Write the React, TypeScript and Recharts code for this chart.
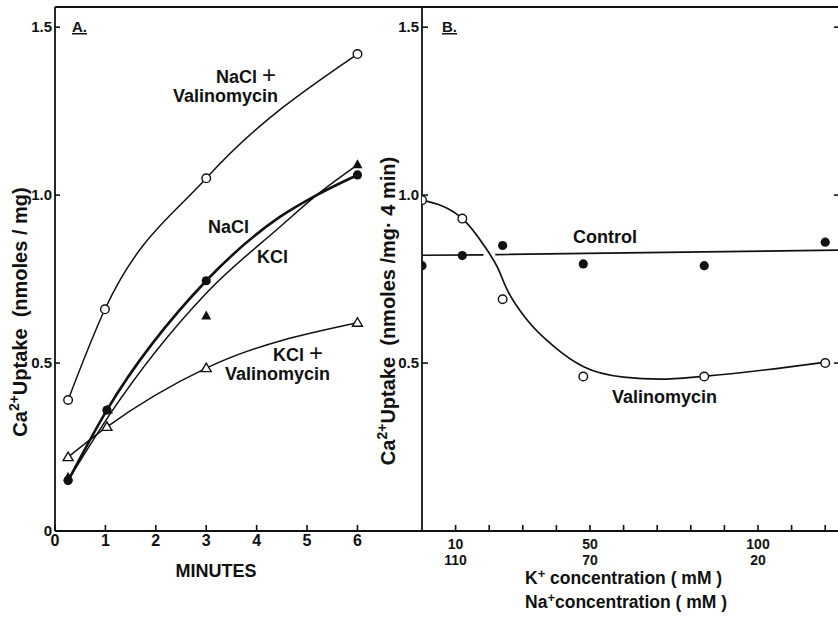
import { ComposedChart, Line, Scatter, XAxis, YAxis } from 'recharts';

// ---- panel A: uptake vs time ----
const minuteTicks = [0, 1, 2, 3, 4, 5, 6];
const topMinuteTicks = [1, 2, 3, 4, 5, 6];
const uptakeTicksA = [0, 0.5, 1, 1.5];

const naclValMin = [0.26, 0.99, 3.0, 6.0];
const naclValUptake = [0.39, 0.66, 1.05, 1.42];

const kclValMin = [0.26, 1.03, 3.0, 6.0];
const kclValUptake = [0.22, 0.31, 0.485, 0.62];

const naclMin = [0.26, 1.03, 3.0, 6.0];
const naclUptake = [0.15, 0.36, 0.745, 1.06];

const kclMin = [0.26, 1.05, 3.0, 6.0];
const kclUptake = [0.16, 0.36, 0.64, 1.09];

// hand-drawn fit lines for the NaCl / KCl runs
const naclFitMin = [0.26, 1.03, 3.0, 4.46, 5.19, 6.0];
const naclFitUptake = [0.15, 0.36, 0.745, 0.935, 1.0, 1.06];
const kclFitMin = [0.3, 1.1, 3.0, 4.46, 5.19, 6.0];
const kclFitUptake = [0.16, 0.35, 0.708, 0.905, 1.0, 1.09];

// ---- panel B: uptake vs K+/Na+ concentration ----
const kTicks = [10, 20, 30, 40, 50, 60, 70, 80, 90, 100, 110, 120];
const kLabelled = [10, 50, 100];
const naLabelled = [110, 70, 20];
const uptakeTicksB = [0.5, 1, 1.5];

const kConc = [0, 12, 24, 48, 84, 120];
const valUptake = [0.985, 0.93, 0.69, 0.46, 0.46, 0.5];
const controlUptake = [0.79, 0.82, 0.85, 0.795, 0.79, 0.86];

const valFitK = [0, 12, 18.4, 22.4, 25.4, 31.3, 39.3, 48.1, 60, 70.9, 84.3, 120.2];
const valFitUptake = [0.985, 0.93, 0.851, 0.786, 0.717, 0.628, 0.549, 0.489, 0.458, 0.452, 0.461, 0.503];

// control line is broken where the valinomycin curve crosses it
const controlFitK = [0, 18.3, 20, 21.8, 124.4];
const controlFitUptake = [0.821, 0.822, null, 0.823, 0.836];

const pts = (xs: number[], ys: (number | null)[]) => xs.map((x, i) => ({ x, y: ys[i] }));

const font = '"Liberation Sans", Arial, Helvetica, sans-serif';
const ink = '#111';
const axisLine = { stroke: ink, strokeWidth: 1.8 };
const tickLine = { stroke: ink, strokeWidth: 1.6 };
const tickText = { fill: ink, fontSize: 15, fontWeight: 700, fontFamily: font };
const fmt = (v: number) => (v === 0 ? '0' : v.toFixed(1));
const blank = () => '';

const OpenCircle = (p: any) => (
  <circle cx={p.cx} cy={p.cy} r={4.3} fill="#fff" stroke={ink} strokeWidth={1.4} />
);
const FilledCircle = (p: any) => <circle cx={p.cx} cy={p.cy} r={4.6} fill={ink} />;
const OpenTriangle = (p: any) => (
  <path
    d={`M${p.cx},${p.cy - 5} L${p.cx + 5},${p.cy + 3.5} L${p.cx - 5},${p.cy + 3.5} Z`}
    fill="#fff"
    stroke={ink}
    strokeWidth={1.4}
  />
);
const FilledTriangle = (p: any) => (
  <path
    d={`M${p.cx},${p.cy - 5.5} L${p.cx + 5},${p.cy + 3.5} L${p.cx - 5},${p.cy + 3.5} Z`}
    fill={ink}
  />
);

// two-row tick: K+ on top, matching Na+ below
const ConcTick = ({ x, y, payload }: any) => {
  const i = kLabelled.indexOf(payload.value);
  if (i < 0) return <g />;
  return (
    <text x={x} y={y} textAnchor="middle" fontSize={14} fontWeight={700} fontFamily={font} fill={ink}>
      <tspan x={x} dy={10.5}>{kLabelled[i]}</tspan>
      <tspan x={x} dy={16.5}>{naLabelled[i]}</tspan>
    </text>
  );
};

function PanelA() {
  return (
    <ComposedChart width={430} height={617} margin={{ top: 6, right: 7, bottom: 56, left: 15 }}>
      <XAxis
        dataKey="x"
        type="number"
        domain={[0, 7.3]}
        allowDataOverflow
        ticks={minuteTicks}
        interval={0}
        tickSize={-6}
        tickMargin={10}
        height={30}
        axisLine={axisLine}
        tickLine={tickLine}
        tick={{ ...tickText, fontSize: 16 }}
      />
      <XAxis
        xAxisId="top"
        orientation="top"
        type="number"
        domain={[0, 7.3]}
        allowDataOverflow
        ticks={topMinuteTicks}
        interval={0}
        tickSize={-6}
        height={1}
        axisLine={axisLine}
        tickLine={tickLine}
        tickFormatter={blank}
      />
      <YAxis
        dataKey="y"
        type="number"
        domain={[0, 1.56]}
        allowDataOverflow
        ticks={uptakeTicksA}
        interval={0}
        tickSize={-5}
        tickMargin={8}
        width={40}
        axisLine={axisLine}
        tickLine={tickLine}
        tick={tickText}
        tickFormatter={fmt}
      />
      <Line data={pts(naclValMin, naclValUptake)} dataKey="y" type="monotone" stroke={ink} strokeWidth={1.5} dot={false} isAnimationActive={false} />
      <Line data={pts(kclValMin, kclValUptake)} dataKey="y" type="monotone" stroke={ink} strokeWidth={1.5} dot={false} isAnimationActive={false} />
      <Line data={pts(kclFitMin, kclFitUptake)} dataKey="y" type="monotone" stroke={ink} strokeWidth={1.5} dot={false} isAnimationActive={false} />
      <Line data={pts(naclFitMin, naclFitUptake)} dataKey="y" type="monotone" stroke={ink} strokeWidth={2.6} dot={false} isAnimationActive={false} />
      <Scatter data={pts(naclValMin, naclValUptake)} dataKey="y" shape={OpenCircle} isAnimationActive={false} />
      <Scatter data={pts(kclValMin, kclValUptake)} dataKey="y" shape={OpenTriangle} isAnimationActive={false} />
      <Scatter data={pts(kclMin, kclUptake)} dataKey="y" shape={FilledTriangle} isAnimationActive={false} />
      <Scatter data={pts(naclMin, naclUptake)} dataKey="y" shape={FilledCircle} isAnimationActive={false} />
    </ComposedChart>
  );
}

function PanelB() {
  return (
    <ComposedChart width={470} height={617} margin={{ top: 6, right: 5, bottom: 56, left: 2 }}>
      <XAxis
        dataKey="x"
        type="number"
        domain={[0, 124.4]}
        allowDataOverflow
        ticks={kTicks}
        interval={0}
        tickSize={-6}
        tickMargin={13}
        height={30}
        axisLine={axisLine}
        tickLine={tickLine}
        tick={<ConcTick />}
      />
      <XAxis
        xAxisId="top"
        orientation="top"
        type="number"
        domain={[0, 124.4]}
        allowDataOverflow
        ticks={kTicks}
        interval={0}
        tickSize={-6}
        height={1}
        axisLine={axisLine}
        tickLine={tickLine}
        tickFormatter={blank}
      />
      <YAxis
        dataKey="y"
        type="number"
        domain={[0, 1.56]}
        allowDataOverflow
        ticks={uptakeTicksB}
        interval={0}
        tickSize={-6}
        tickMargin={9}
        width={40}
        axisLine={axisLine}
        tickLine={tickLine}
        tick={tickText}
        tickFormatter={fmt}
      />
      <YAxis
        yAxisId="right"
        orientation="right"
        type="number"
        domain={[0, 1.56]}
        allowDataOverflow
        ticks={uptakeTicksB}
        interval={0}
        tickSize={-6}
        width={5}
        axisLine={axisLine}
        tickLine={tickLine}
        tickFormatter={blank}
      />
      <Line data={pts(controlFitK, controlFitUptake)} dataKey="y" type="linear" stroke={ink} strokeWidth={1.7} dot={false} isAnimationActive={false} />
      <Line data={pts(valFitK, valFitUptake)} dataKey="y" type="monotone" stroke={ink} strokeWidth={1.7} dot={false} isAnimationActive={false} />
      <Scatter data={pts(kConc, valUptake)} dataKey="y" shape={OpenCircle} isAnimationActive={false} />
      <Scatter data={pts(kConc, controlUptake)} dataKey="y" shape={FilledCircle} isAnimationActive={false} />
    </ComposedChart>
  );
}

function Annotations() {
  const t = { fill: ink, fontFamily: font, fontWeight: 700, fontSize: 18 } as const;
  return (
    <svg width={838} height={617} style={{ position: 'absolute', left: 0, top: 0, pointerEvents: 'none' }}>
      {/* panel A */}
      <text x={72} y={32} {...t} fontSize={15} textDecoration="underline">A.</text>
      <text x={216} y={83} {...t}>
        NaCl <tspan fontSize={24} fontWeight={400}>+</tspan>
      </text>
      <text x={173} y={102} {...t}>Valinomycin</text>
      <text x={208} y={233} {...t}>NaCl</text>
      <text x={257} y={263} {...t}>KCl</text>
      <text x={273} y={361} {...t}>
        KCl <tspan fontSize={24} fontWeight={400}>+</tspan>
      </text>
      <text x={225} y={380} {...t}>Valinomycin</text>
      <text x={216} y={577} {...t} textAnchor="middle">MINUTES</text>
      <text transform="translate(27,312) rotate(-90)" {...t} fontSize={20} textAnchor="middle" style={{ whiteSpace: 'pre' }}>
        Ca<tspan fontSize={14} dy={-8}>2+</tspan>
        <tspan dy={8}>Uptake  (nmoles / mg)</tspan>
      </text>

      {/* panel B */}
      <text x={442} y={32} {...t} fontSize={15} textDecoration="underline">B.</text>
      <text x={573} y={243} {...t}>Control</text>
      <text x={612} y={403} {...t}>Valinomycin</text>
      <text transform="translate(395,311) rotate(-90)" {...t} fontSize={20} textAnchor="middle" style={{ whiteSpace: 'pre' }}>
        Ca<tspan fontSize={14} dy={-8}>2+</tspan>
        <tspan dy={8}>Uptake  (nmoles /mg· 4 min)</tspan>
      </text>
      <text x={525} y={584} {...t} fontSize={17.5} style={{ whiteSpace: 'pre' }}>
        K<tspan fontSize={13} dy={-6}>+</tspan>
        <tspan dy={6}> concentration ( mM )</tspan>
      </text>
      <text x={525} y={608} {...t} fontSize={17.5} style={{ whiteSpace: 'pre' }}>
        Na<tspan fontSize={13} dy={-6}>+</tspan>
        <tspan dy={6}>concentration ( mM )</tspan>
      </text>
    </svg>
  );
}

export default function App() {
  return (
    <div
      style={{
        position: 'absolute',
        left: 0,
        top: 0,
        width: 838,
        height: 617,
        overflow: 'hidden',
        background: '#fff',
        fontFamily: font,
      }}
    >
      <div style={{ position: 'absolute', left: 0, top: 0 }}>
        <PanelA />
      </div>
      <div style={{ position: 'absolute', left: 380, top: 0 }}>
        <PanelB />
      </div>
      <Annotations />
    </div>
  );
}
